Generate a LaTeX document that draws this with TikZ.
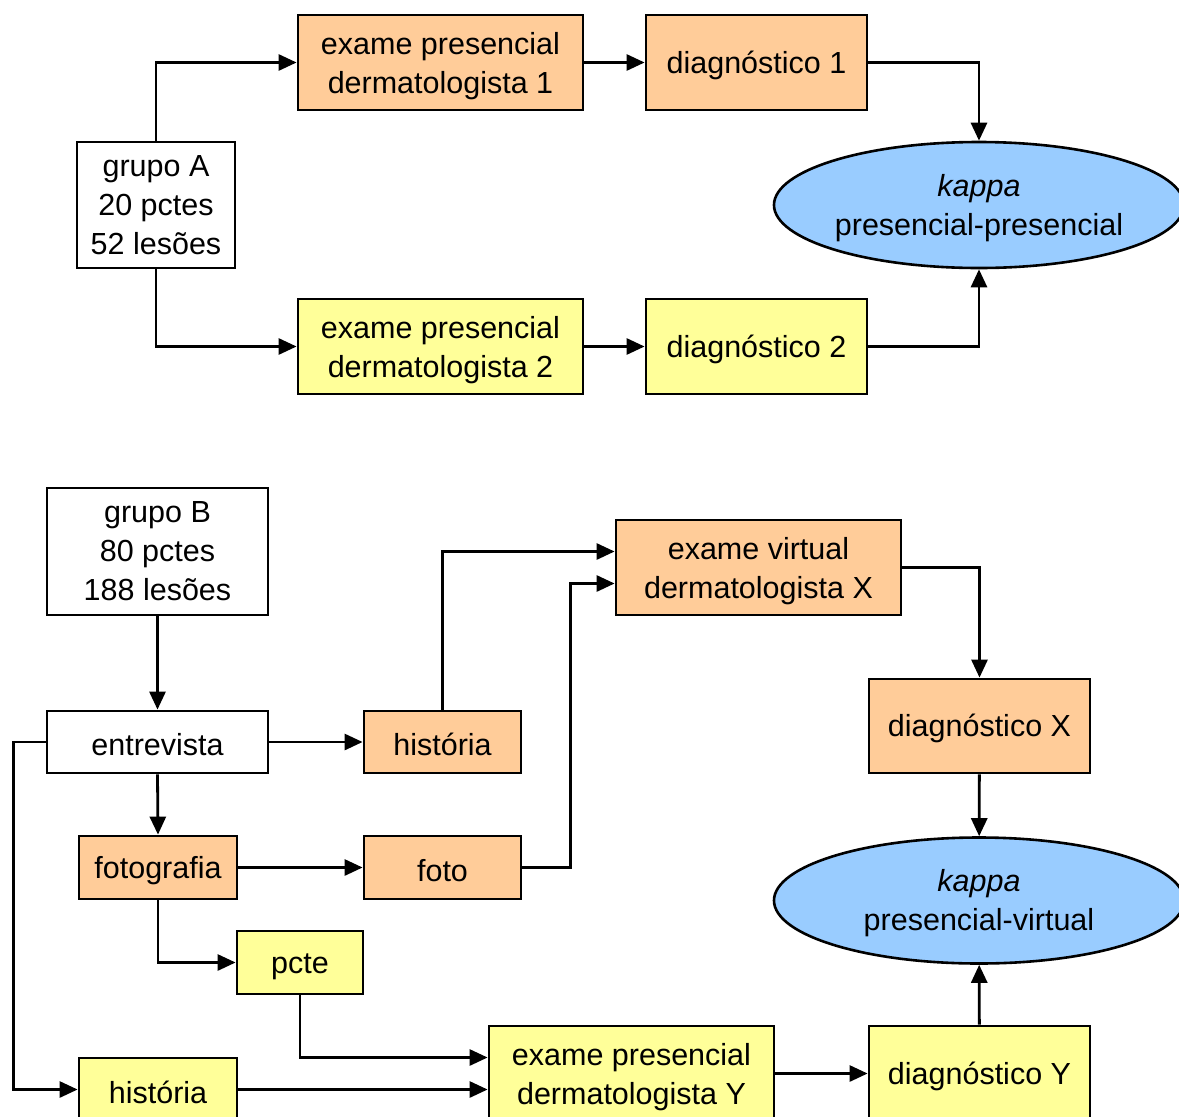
\documentclass[tikz,border=0pt]{standalone}
\usepackage{fontspec}
\setmainfont{Liberation Sans}
\usetikzlibrary{shapes.geometric,arrows.meta}
\definecolor{peach}{HTML}{FFCC99}
\definecolor{lyellow}{HTML}{FFFF99}
\definecolor{lblue}{HTML}{99CCFF}
\begin{document}
\begin{tikzpicture}[x=1pt,y=-1pt,
  box/.style={draw, line width=2.8pt, inner sep=0pt, align=center,
    font=\fontsize{30.5}{39}\selectfont,
    execute at begin node={\rule{0pt}{28pt}}},
  tbox/.style={draw, line width=2.8pt, inner sep=0pt, align=center,
    font=\fontsize{30.5}{39}\selectfont, text height=70pt, text depth=8pt},
  gbox/.style={draw, line width=2.8pt, inner sep=0pt, align=center,
    font=\fontsize{30.5}{39}\selectfont},
  oval/.style={ellipse, draw, line width=2.6pt, fill=lblue, inner sep=0pt,
    align=center, minimum width=410pt, minimum height=126pt,
    font=\fontsize{30.5}{39}\selectfont, text height=68pt, text depth=8pt},
  arr/.style={line width=2.8pt, -{Triangle[length=18pt,width=16pt]}},
]
\useasboundingbox (0,0) rectangle (1179,1117);
\clip (0,0) rectangle (1179,1117);
% ---------- group A ----------
\node[gbox, minimum width=158pt, minimum height=126pt] (gA) at (156,205) {grupo A\\20 pctes\\52 lesões};
\node[tbox, fill=peach, minimum width=285pt, minimum height=95pt] (ex1) at (440.5,62.5) {exame presencial\\dermatologista 1};
\node[box, fill=peach, minimum width=221pt, minimum height=95pt] (d1) at (756.5,62.5) {diagnóstico 1};
\node[tbox, fill=lyellow, minimum width=285pt, minimum height=95pt] (ex2) at (440.5,346.5) {exame presencial\\dermatologista 2};
\node[box, fill=lyellow, minimum width=221pt, minimum height=95pt] (d2) at (756.5,346.5) {diagnóstico 2};
\node[oval] (k1) at (979,205) {\textit{kappa}\\presencial-presencial};
\draw[arr] (gA.north) |- (ex1.west);
\draw[arr] (gA.south) |- (ex2.west);
\draw[arr] (ex1) -- (d1);
\draw[arr] (ex2) -- (d2);
\draw[arr] (d1.east) -| (k1.north);
\draw[arr] (d2.east) -| (k1.south);
% ---------- group B ----------
\node[gbox, minimum width=221pt, minimum height=127pt] (gB) at (157.5,551.5) {grupo B\\80 pctes\\188 lesões};
\node[box, minimum width=221pt, minimum height=62pt] (ent) at (157.5,742) {entrevista};
\node[box, fill=peach, minimum width=157pt, minimum height=62pt] (h1) at (442.5,742) {história};
\node[box, fill=peach, minimum width=158pt, minimum height=63pt] (fg) at (158,867.5) {fotografia};
\node[box, fill=peach, minimum width=157pt, minimum height=63pt] (ft) at (442.5,867.5) {foto};
\node[box, fill=lyellow, minimum width=126pt, minimum height=63pt] (pc) at (300,962.5) {pcte};
\node[box, fill=lyellow, minimum width=158pt, minimum height=63pt] (h2) at (158,1089.5) {história};
\node[tbox, fill=peach, minimum width=285pt, minimum height=95pt] (exX) at (758.5,567.5) {exame virtual\\dermatologista X};
\node[box, fill=peach, minimum width=221pt, minimum height=94pt] (dX) at (979.5,726) {diagnóstico X};
\node[oval] (k2) at (979,900.5) {\textit{kappa}\\presencial-virtual};
\node[tbox, fill=lyellow, minimum width=285pt, minimum height=95pt] (exY) at (631.5,1073.5) {exame presencial\\dermatologista Y};
\node[box, fill=lyellow, minimum width=221pt, minimum height=95pt] (dY) at (979.5,1073.5) {diagnóstico Y};
\draw[arr] (gB) -- (ent);
\draw[arr] (ent) -- (h1);
\draw[arr] (ent.south) -- (fg.north);
\draw[arr] (fg) -- (ft);
\draw[arr] (h1.north) |- ([yshift=16pt]exX.west);
\draw[arr] (ft.east) -- ++(48,0) |- ([yshift=-16pt]exX.west);
\draw[arr] (exX.east) -| (dX.north);
\draw[arr] (dX) -- (k2);
\draw[arr] (fg.south) |- (pc.west);
\draw[arr] (ent.west) -- ++(-32,0) |- (h2.west);
\draw[arr] (pc.south) |- ([yshift=16pt]exY.west);
\draw[arr] (h2.east) -- ([yshift=-16pt]exY.west);
\draw[arr] (exY) -- (dY);
\draw[arr] (dY) -- (k2);
\end{tikzpicture}
\end{document}
